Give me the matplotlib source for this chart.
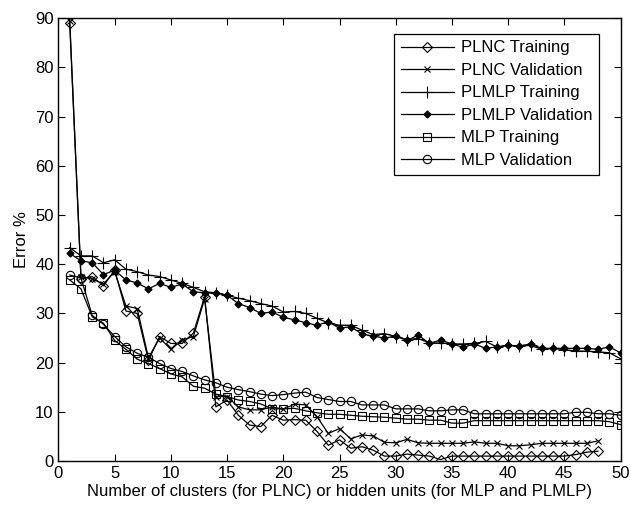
import matplotlib
matplotlib.use("Agg")
import matplotlib.pyplot as plt
import numpy as np

plt.rcParams["font.family"] = ["Liberation Sans", "DejaVu Sans"]

# number of clusters / hidden units
x_plnc = np.arange(1, 49)
x_mlp = np.arange(1, 51)

plnc_train = [89, 37, 37.5, 35.6, 38.8, 30.5, 30, 20.5, 25.3, 23.9,
              23.9, 26, 33.4, 11, 12.4, 9.3, 7.3, 7.0, 9.3, 8.3,
              8.4, 8.3, 6.0, 3.2, 4.3, 2.6, 2.9, 2.2, 1.0, 1.0,
              1.4, 1.2, 1.0, 0.3, 1.0, 1.0, 1.0, 1.0, 1.0, 1.0,
              1.0, 1.0, 1.0, 1.0, 1.0, 1.3, 1.8, 2.0]
plnc_val = [89.5, 37.5, 37, 36, 38.5, 31.5, 31, 21, 25, 22.7,
            24.6, 25.3, 33, 13.1, 13.1, 11, 10.4, 10.4, 11, 10.5,
            11.6, 11.4, 9.0, 5.6, 6.6, 4.5, 5.3, 5.1, 3.8, 3.7,
            4.4, 3.7, 3.6, 3.6, 3.6, 3.6, 3.9, 3.6, 3.6, 3.1,
            3.1, 3.3, 3.6, 3.6, 3.6, 3.6, 3.6, 4.1]
plmlp_train = [43.4, 41.7, 41.7, 40.3, 40.9, 39.0, 38.5, 37.8, 37.5, 36.8,
               36.1, 35.3, 34.4, 34.2, 33.7, 33.1, 32.6, 32.0, 31.5, 30.3,
               30.4, 30.0, 29.0, 28.1, 27.6, 27.6, 26.6, 25.7, 25.9, 25.3,
               24.7, 24.9, 24.0, 24.0, 23.8, 23.8, 23.9, 24.3, 23.2, 23.5,
               23.4, 23.5, 22.7, 22.9, 22.6, 22.4, 22.3, 22.2, 22.0, 20.8]
plmlp_val = [42.2, 40.7, 40.3, 37.9, 38.8, 36.8, 36.2, 35.0, 36.1, 35.3,
             36.0, 34.4, 34.2, 34.2, 33.7, 32.0, 31.2, 30.0, 30.3, 29.2,
             28.7, 28.1, 27.6, 28.3, 27.0, 27.3, 25.8, 25.4, 25.0, 25.4,
             24.5, 25.6, 23.9, 24.6, 23.8, 23.1, 23.8, 22.9, 23.2, 23.5,
             23.4, 23.8, 22.9, 22.9, 22.9, 22.9, 22.9, 22.7, 23.2, 22.0]
mlp_train = [36.8, 35.0, 29.3, 28.0, 24.5, 22.7, 20.7, 19.8, 18.8, 17.7,
             17.1, 15.2, 14.8, 13.6, 13.1, 12.4, 12.1, 11.6, 10.6, 10.6,
             10.7, 10.2, 9.8, 9.5, 9.5, 9.3, 9.1, 9.0, 8.9, 8.7,
             8.5, 8.5, 8.3, 8.3, 7.7, 7.7, 8.2, 8.2, 8.2, 8.2,
             8.2, 8.2, 8.2, 8.2, 8.2, 8.2, 8.2, 8.2, 8.0, 7.4]
mlp_val = [37.8, 37.2, 29.6, 27.8, 25.3, 23.2, 21.9, 21.1, 19.8, 18.8,
           18.2, 17.3, 16.5, 15.9, 15.0, 14.5, 14.1, 13.6, 13.3, 13.5,
           13.8, 14.0, 12.9, 12.5, 12.1, 12.1, 11.4, 11.4, 11.4, 10.6,
           10.6, 10.6, 10.2, 10.2, 10.4, 10.4, 9.6, 9.6, 9.6, 9.6,
           9.6, 9.6, 9.6, 9.6, 9.6, 9.9, 9.9, 9.6, 9.6, 9.3]

fig = plt.figure(figsize=(6.31, 5.08), dpi=100)
ax = fig.add_axes([0.0927, 0.0925, 0.8907, 0.8715])

style = dict(color="black", lw=0.9, mfc="none", mec="black", mew=0.8)
ax.plot(x_plnc, plnc_train, marker="D", ms=5.5, label="PLNC Training", **style)
ax.plot(x_plnc, plnc_val, marker="x", ms=5, label="PLNC Validation", **style)
ax.plot(x_mlp, plmlp_train, marker="+", ms=8, label="PLMLP Training", **style)
ax.plot(x_mlp, plmlp_val, marker="D", ms=3.5, color="black", lw=0.9,
        mfc="black", mec="black", label="PLMLP Validation")
ax.plot(x_mlp, mlp_train, marker="s", ms=6, label="MLP Training", **style)
ax.plot(x_mlp, mlp_val, marker="o", ms=6, label="MLP Validation", **style)

ax.set_xlim(0, 50)
ax.set_ylim(0, 90)
ax.set_xticks(np.arange(0, 51, 5))
ax.set_yticks(np.arange(0, 91, 10))
ax.tick_params(direction="in", top=True, right=True, labelsize=12, length=5)
for s in ax.spines.values():
    s.set_linewidth(1)

ax.set_xlabel("Number of clusters (for PLNC) or hidden units (for MLP and PLMLP)",
              fontsize=12, labelpad=2)
ax.set_ylabel("Error %", fontsize=12, labelpad=4)

leg = ax.legend(loc="upper right", bbox_to_anchor=(0.976, 0.984), fontsize=12,
                fancybox=False, edgecolor="black", framealpha=1,
                handlelength=3.2, handletextpad=0.4, borderpad=0.4,
                labelspacing=0.45)
leg.get_frame().set_linewidth(0.9)

fig.savefig("out.png", dpi=100)
plt.close(fig)
